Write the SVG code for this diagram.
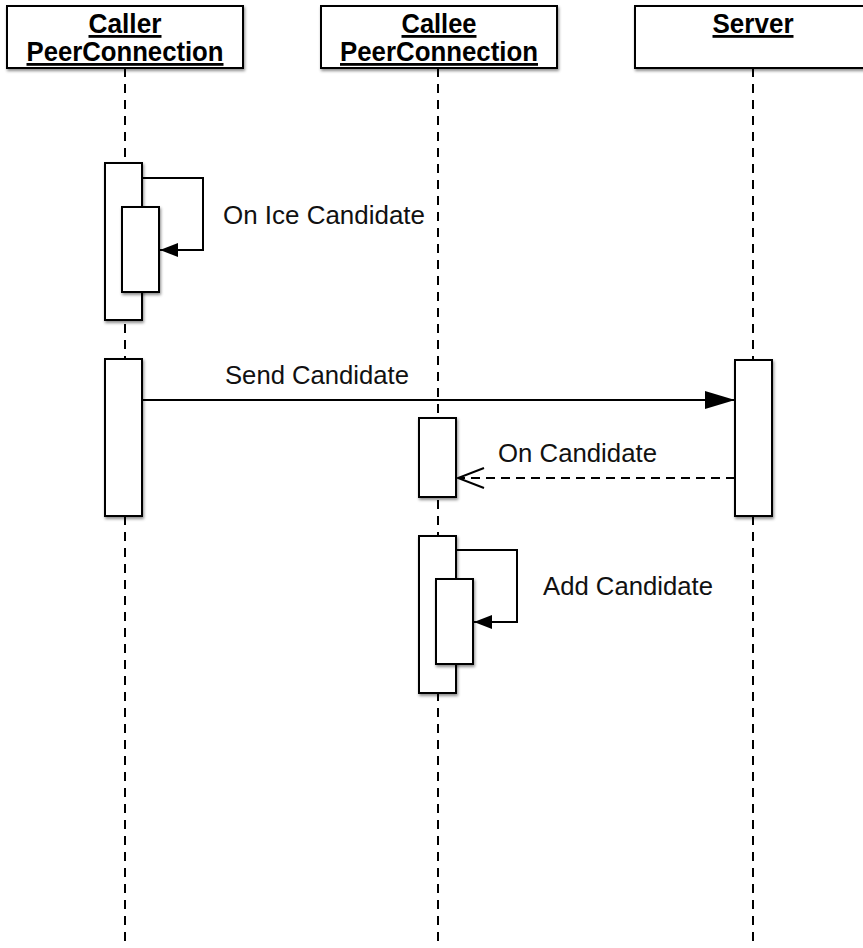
<svg xmlns="http://www.w3.org/2000/svg" width="863" height="948" viewBox="0 0 863 948">
  <style>
    .head { fill: #fff; stroke: #000; stroke-width: 2; filter: url(#shadow); }
    .bar { fill: #fff; stroke: #000; stroke-width: 2; filter: url(#shadow); }
    .life { stroke: #000; stroke-width: 2; stroke-dasharray: 9 7; fill: none; }
    .title { font-family: "Liberation Sans", Arial, Helvetica, sans-serif; font-size: 28px; font-weight: bold; text-anchor: middle; text-decoration: underline; fill: #000; }
    .label { font-family: "Liberation Sans", Arial, Helvetica, sans-serif; font-size: 25px; fill: #111; }
    .msg { stroke: #000; stroke-width: 2; fill: none; }
    .dashed { stroke-dasharray: 9 6; }
  </style>
  <defs>
    <filter id="shadow" x="-20%" y="-20%" width="150%" height="150%">
      <feDropShadow dx="1" dy="2" stdDeviation="1.5" flood-color="#000" flood-opacity="0.45"/>
    </filter>
    <marker id="headSmall" markerUnits="userSpaceOnUse" viewBox="0 0 18 14" refX="18" refY="7" markerWidth="18" markerHeight="14" orient="auto">
      <path d="M0,0 L18,7 L0,14 z" fill="#000"/>
    </marker>
    <marker id="headLarge" markerUnits="userSpaceOnUse" viewBox="0 0 30 18" refX="30" refY="9" markerWidth="30" markerHeight="18" orient="auto">
      <path d="M0,0 L30,9 L0,18 z" fill="#000"/>
    </marker>
    <marker id="headOpen" markerUnits="userSpaceOnUse" viewBox="-2 -2 30 24" refX="26" refY="10" markerWidth="30" markerHeight="24" orient="auto">
      <path d="M0,0 L26,10 L0,20" fill="none" stroke="#000" stroke-width="2"/>
    </marker>
  </defs>

  <rect width="863" height="948" fill="#fff"/>

  <!-- participants: header box with its lifeline -->
  <g id="caller">
    <line class="life" x1="125" y1="68" x2="125" y2="948"/>
    <rect class="head" x="7" y="6" width="236" height="62"/>
    <text class="title" x="125" y="33" textLength="73" lengthAdjust="spacingAndGlyphs">Caller</text>
    <text class="title" x="125" y="61" textLength="197" lengthAdjust="spacingAndGlyphs">PeerConnection</text>
  </g>
  <g id="callee">
    <line class="life" x1="438" y1="68" x2="438" y2="948"/>
    <rect class="head" x="321" y="6" width="236" height="62"/>
    <text class="title" x="439" y="33" textLength="75" lengthAdjust="spacingAndGlyphs">Callee</text>
    <text class="title" x="439" y="61" textLength="198" lengthAdjust="spacingAndGlyphs">PeerConnection</text>
  </g>
  <g id="server">
    <line class="life" x1="753" y1="68" x2="753" y2="948"/>
    <rect class="head" x="635" y="6" width="236" height="62"/>
    <text class="title" x="753" y="33" textLength="81" lengthAdjust="spacingAndGlyphs">Server</text>
  </g>

  <!-- activation bars -->
  <g id="caller-ice">
    <rect class="bar" x="105" y="163" width="37" height="157"/>
    <rect class="bar" x="122" y="207" width="37" height="85"/>
  </g>
  <g id="caller-send">
    <rect class="bar" x="105" y="359" width="37" height="157"/>
  </g>
  <g id="server-relay">
    <rect class="bar" x="735" y="360" width="37" height="156"/>
  </g>
  <g id="callee-receive">
    <rect class="bar" x="419" y="418" width="37" height="79"/>
  </g>
  <g id="callee-add">
    <rect class="bar" x="419" y="536" width="37" height="157"/>
    <rect class="bar" x="436" y="579" width="37" height="85"/>
  </g>

  <!-- messages -->
  <g id="connectors">
    <path class="msg" d="M142,178 H203 V250 H160" marker-end="url(#headSmall)"/>
    <line class="msg" x1="142" y1="400" x2="735" y2="400" marker-end="url(#headLarge)"/>
    <line class="msg dashed" x1="735" y1="478" x2="458" y2="478" marker-end="url(#headOpen)"/>
    <path class="msg" d="M456,550 H517 V622 H474" marker-end="url(#headSmall)"/>
  </g>

  <!-- message labels -->
  <g id="labels">
    <text class="label" x="223" y="224" textLength="202" lengthAdjust="spacingAndGlyphs">On Ice Candidate</text>
    <text class="label" x="225" y="384" textLength="184" lengthAdjust="spacingAndGlyphs">Send Candidate</text>
    <text class="label" x="498" y="462" textLength="159" lengthAdjust="spacingAndGlyphs">On Candidate</text>
    <text class="label" x="543" y="595" textLength="170" lengthAdjust="spacingAndGlyphs">Add Candidate</text>
  </g>
</svg>
